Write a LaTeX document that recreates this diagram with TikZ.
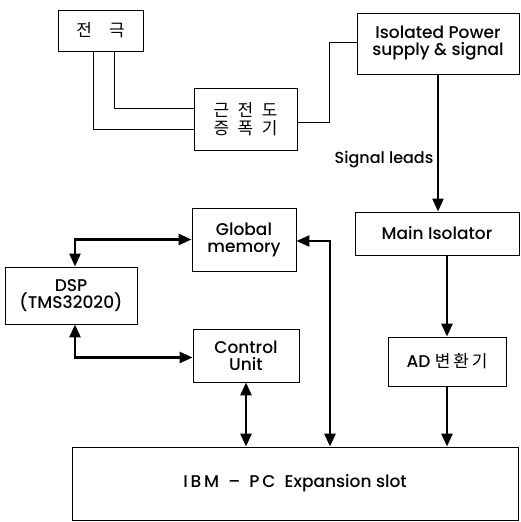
\documentclass[tikz,border=0pt]{standalone}
\usepackage{fontspec}
\setmainfont{Poppins}[UprightFont=* Medium]
\newfontfamily\kofont{Noto Sans CJK KR}
\usetikzlibrary{arrows.meta,positioning,calc}

\begin{document}
\begin{tikzpicture}[x=1pt, y=-1pt, font=\fontsize{17}{20}\selectfont]
    % Define styles
    \tikzstyle{block} = [rectangle, draw=black, line width=0.9pt, align=center, inner sep=2pt]
    \tikzstyle{wire} = [line width=0.9pt]
    \tikzstyle{arrow} = [line width=2.6pt, -{Triangle[length=13pt,width=11pt]}]
    \tikzstyle{dblarrow} = [line width=2.6pt, {Triangle[length=13pt,width=11pt]}-{Triangle[length=13pt,width=11pt]}]

    \useasboundingbox (0,0) rectangle (520,522);

    % Nodes
    \node [block, minimum width=85pt, minimum height=41pt] (elec) at (100.5,30.5) {\kofont 전\quad 극};
    \node [block, minimum width=103pt, minimum height=62pt] (emg) at (245.5,119) {\kofont 근\enspace 전\enspace 도\\[-2pt]\kofont 증\enspace 폭\enspace 기};
    \node [block, minimum width=162pt, minimum height=61pt] (iso) at (438,43.5) {Isolated Power\\[-3pt]supply \& signal};
    \node [block, minimum width=164pt, minimum height=43pt] (mainiso) at (437,233.5) {Main Isolator};
    \node [block, minimum width=118pt, minimum height=49pt] (ad) at (447,361.5) {AD {\kofont 변\,환\,기}};
    \node [block, minimum width=446pt, minimum height=73pt] (ibm) at (295,483.5) {I\,B\,M\; -- \;P\,C\; Expansion slot};
    \node [block, minimum width=104pt, minimum height=63pt] (glob) at (244,239.5) {Global\\[-3pt]memory};
    \node [block, minimum width=132pt, minimum height=57pt] (dsp) at (71,295.5) {DSP\\[-3pt](TMS32020)};
    \node [block, minimum width=106pt, minimum height=53pt] (ctrl) at (246,355.5) {Control\\[-3pt]Unit};
    \coordinate (bus) at (330,0);

    % Wires
    \draw [wire] ([xshift=-7.5pt]elec.south) |- ([yshift=-10pt]emg.west);
    \draw [wire] ([xshift=13.5pt]elec.south) |- ([yshift=11pt]emg.west);
    \draw [wire] ([yshift=-3pt]emg.east) -| ([xshift=-27pt,yshift=1.5pt]iso.west) -- ([yshift=1.5pt]iso.west);

    % Arrows
    \draw [arrow] (iso.south) -- node [left, pos=0.62, font=\fontsize{16}{19}\selectfont] {Signal leads} (iso.south |- mainiso.north);
    \draw [arrow] (ad.north |- mainiso.south) -- (ad.north);
    \draw [arrow] (ad.south) -- (ad.south |- ibm.north);
    \draw [dblarrow] (ctrl.south) -- (ctrl.south |- ibm.north);
    \draw [dblarrow] ([yshift=-1.5pt]glob.east) -| (bus |- ibm.north);
    \draw [dblarrow] (glob.west) -| ([xshift=4pt]dsp.north);
    \draw [dblarrow] ([xshift=4pt]dsp.south) |- ([yshift=-2pt]ctrl.west);
\end{tikzpicture}
\end{document}
